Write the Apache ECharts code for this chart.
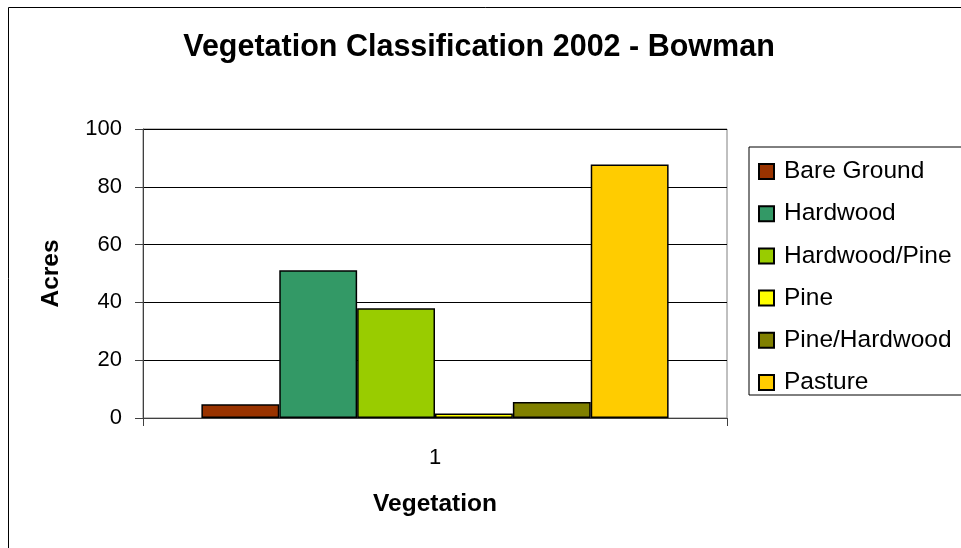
<!DOCTYPE html>
<html>
<head>
<meta charset="utf-8">
<script src="https://cdn.jsdelivr.net/npm/echarts@6/dist/echarts.min.js"></script>
<style>html,body{margin:0;padding:0;background:#fff}#c{width:961px;height:548px}</style>
</head>
<body>
<div id="c"></div>
<script>
const categories = ['1'];
const seriesNames = ['Bare Ground', 'Hardwood', 'Hardwood/Pine', 'Pine', 'Pine/Hardwood', 'Pasture'];
const bareGround = [4.8];
const hardwood = [51.1];
const hardwoodPine = [38.0];
const pine = [1.6];
const pineHardwood = [5.5];
const pasture = [87.7];
const yTicks = [0, 20, 40, 60, 80, 100];
const colors = ['#993300', '#339966', '#99CC00', '#FFFF00', '#808000', '#FFCC00'];

const seriesData = [bareGround, hardwood, hardwoodPine, pine, pineHardwood, pasture];
const FONT = '"Liberation Sans", Arial, sans-serif';

const chart = echarts.init(document.getElementById('c'), null, {renderer: 'canvas'});
chart.setOption({
  animation: false,
  backgroundColor: '#ffffff',
  textStyle: {fontFamily: FONT},
  graphic: [{
    type: 'rect', z: -10, silent: true,
    shape: {x: 8.5, y: 7.5, width: 1000, height: 600},
    style: {fill: 'none', stroke: '#000000', lineWidth: 1}
  }],
  title: {
    text: 'Vegetation Classification 2002 - Bowman',
    left: 474, textAlign: 'center', top: 27,
    textStyle: {fontFamily: FONT, fontSize: 30.5, fontWeight: 'bold', color: '#000'}
  },
  legend: {
    orient: 'vertical',
    left: 749, top: 147,
    padding: [12, 60, 0, 9],
    borderColor: '#000', borderWidth: 1,
    itemWidth: 15, itemHeight: 15,
    itemGap: 17.2,
    icon: 'rect',
    textStyle: {fontFamily: FONT, fontSize: 24.5, color: '#000', padding: [0, 0, 0, 5]},
    data: seriesNames
  },
  grid: {
    left: 143, right: 234, top: 129, bottom: 130,
    show: true, borderColor: '#808080', borderWidth: 1, backgroundColor: 'transparent'
  },
  xAxis: {
    type: 'category',
    data: categories,
    name: 'Vegetation',
    nameLocation: 'middle',
    nameGap: 74,
    nameTextStyle: {fontFamily: FONT, fontSize: 24.5, fontWeight: 'bold', color: '#000'},
    axisLine: {lineStyle: {color: '#404040', width: 1}},
    axisTick: {show: true, length: 8, lineStyle: {color: '#404040'}},
    axisLabel: {fontFamily: FONT, fontSize: 22, color: '#000', margin: 29},
    splitLine: {show: false}
  },
  yAxis: {
    type: 'value',
    min: yTicks[0], max: yTicks[yTicks.length - 1], interval: yTicks[1] - yTicks[0],
    name: 'Acres',
    nameLocation: 'middle',
    nameGap: 79,
    nameRotate: 90,
    nameTextStyle: {fontFamily: FONT, fontSize: 24.5, fontWeight: 'bold', color: '#000'},
    axisLine: {show: true, lineStyle: {color: '#404040', width: 1}},
    axisTick: {show: true, length: 8, lineStyle: {color: '#404040'}},
    axisLabel: {fontFamily: FONT, fontSize: 22, color: '#000', margin: 21},
    splitLine: {show: true, lineStyle: {color: '#000', width: 1}}
  },
  series: seriesNames.map((name, i) => ({
    name: name,
    type: 'bar',
    data: seriesData[i],
    barGap: '0%',
    barCategoryGap: '20%',
    itemStyle: {color: colors[i], borderColor: '#000', borderWidth: 1.5}
  }))
});
</script>
</body>
</html>
